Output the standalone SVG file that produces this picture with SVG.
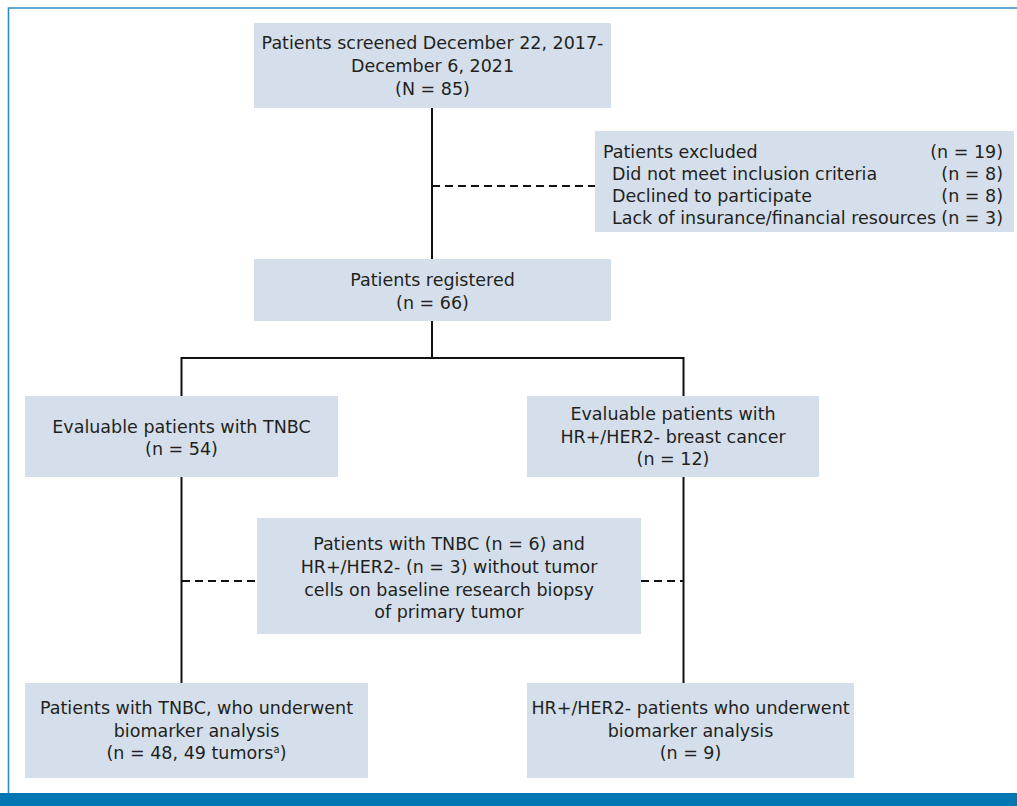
<svg xmlns="http://www.w3.org/2000/svg" width="1017" height="806" viewBox="0 0 1017 806">
<style>
.box{fill:#d5dfec}
.t{font-family:"DejaVu Sans","Liberation Sans",Arial,sans-serif;font-size:17.5px;fill:#231f20}
.c{text-anchor:middle}
.e{text-anchor:end}
.ln{stroke:#111;stroke-width:2;fill:none}
.dash{stroke:#111;stroke-width:2;fill:none;stroke-dasharray:8 5}
</style>
<rect x="0" y="0" width="1017" height="806" fill="#fff"/>
<g id="frame">
<path d="M8.5 793 V8 H1017" fill="none" stroke="#2f8cc2" stroke-width="1.6"/>
<rect x="0" y="793" width="1017" height="13" fill="#0077b3"/>
</g>
<g id="connectors">
<path class="ln" d="M432 108 V259"/>
<path class="dash" d="M432 186 H595"/>
<path class="ln" d="M432 321 V358"/>
<path class="ln" d="M181.5 396 V358 H683.5 V396"/>
<path class="ln" d="M181.5 477 V683"/>
<path class="ln" d="M683.5 477 V683"/>
<path class="dash" d="M182 581 H257"/>
<path class="dash" d="M641 581 H683"/>
</g>
<g id="screened">
<rect class="box" x="254" y="23" width="357" height="85"/>
<text class="t c" x="432.5" y="48.5">Patients screened December 22, 2017-</text>
<text class="t c" x="432.5" y="71.5">December 6, 2021</text>
<text class="t c" x="432.5" y="94.5">(N = 85)</text>
</g>
<g id="excluded">
<rect class="box" x="595" y="131" width="419" height="101"/>
<text class="t" x="603" y="158">Patients excluded</text>
<text class="t" x="612" y="180">Did not meet inclusion criteria</text>
<text class="t" x="612" y="202">Declined to participate</text>
<text class="t" x="612" y="224">Lack of insurance/financial resources</text>
<text class="t e" x="1003" y="158">(n = 19)</text>
<text class="t e" x="1003" y="180">(n = 8)</text>
<text class="t e" x="1003" y="202">(n = 8)</text>
<text class="t e" x="1003" y="224">(n = 3)</text>
</g>
<g id="registered">
<rect class="box" x="254" y="259" width="357" height="62"/>
<text class="t c" x="432.5" y="286">Patients registered</text>
<text class="t c" x="432.5" y="309">(n = 66)</text>
</g>
<g id="tnbc">
<rect class="box" x="25" y="396" width="313" height="81"/>
<text class="t c" x="181.5" y="433">Evaluable patients with TNBC</text>
<text class="t c" x="181.5" y="455">(n = 54)</text>
</g>
<g id="hr">
<rect class="box" x="527" y="396" width="292" height="81"/>
<text class="t c" x="673" y="420">Evaluable patients with</text>
<text class="t c" x="673" y="443">HR+/HER2- breast cancer</text>
<text class="t c" x="673" y="465">(n = 12)</text>
</g>
<g id="no-tumor">
<rect class="box" x="257" y="518" width="384" height="116"/>
<text class="t c" x="449" y="550">Patients with TNBC (n = 6) and</text>
<text class="t c" x="449" y="573">HR+/HER2- (n = 3) without tumor</text>
<text class="t c" x="449" y="596">cells on baseline research biopsy</text>
<text class="t c" x="449" y="618">of primary tumor</text>
</g>
<g id="tnbc-biomarker">
<rect class="box" x="25" y="683" width="343" height="95"/>
<text class="t c" x="196.5" y="714">Patients with TNBC, who underwent</text>
<text class="t c" x="196.5" y="736.5">biomarker analysis</text>
<text class="t c" x="196.5" y="758.5">(n = 48, 49 tumors<tspan font-size="10" dy="-6">a</tspan><tspan dy="6">)</tspan></text>
</g>
<g id="hr-biomarker">
<rect class="box" x="527" y="683" width="327" height="95"/>
<text class="t c" x="690.5" y="714">HR+/HER2- patients who underwent</text>
<text class="t c" x="690.5" y="736.5">biomarker analysis</text>
<text class="t c" x="690.5" y="758.5">(n = 9)</text>
</g>
</svg>
